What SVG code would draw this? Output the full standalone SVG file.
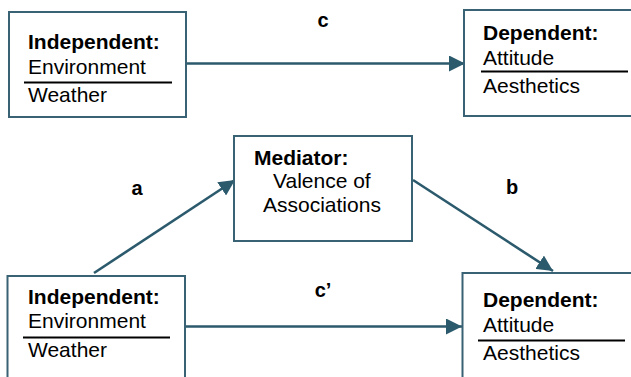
<svg xmlns="http://www.w3.org/2000/svg" width="631" height="377" viewBox="0 0 631 377">
<style>
.box{fill:#fff;stroke:#3a6275;stroke-width:2}
.t{font-family:"Liberation Sans",Arial,sans-serif;font-size:21px;fill:#000}
.b{font-weight:bold}
.lbl{font-family:"Liberation Sans",Arial,sans-serif;font-size:20px;font-weight:bold;fill:#000}
.sep{stroke:#000;stroke-width:2}
.conn{stroke:#2c5a6d;stroke-width:2.6;fill:none}
</style>
<defs>
<marker id="ah" markerWidth="16" markerHeight="16" viewBox="0 0 16 16" refX="16" refY="8" orient="auto" markerUnits="userSpaceOnUse">
<path d="M0,0 L16,8 L0,16 Z" fill="#2c5a6d"/>
</marker>
</defs>
<rect width="631" height="377" fill="#fff"/>
<g id="connectors">
<line class="conn" x1="187" y1="63.5" x2="465" y2="63.5" marker-end="url(#ah)"/>
<line class="conn" x1="94" y1="273" x2="235" y2="180" marker-end="url(#ah)"/>
<line class="conn" x1="413" y1="180" x2="553" y2="271" marker-end="url(#ah)"/>
<line class="conn" x1="186" y1="326.5" x2="462" y2="326.5" marker-end="url(#ah)"/>
<text class="lbl" x="323" y="27" text-anchor="middle">c</text>
<text class="lbl" x="323" y="297" text-anchor="middle">c’</text>
<text class="lbl" x="137" y="195" text-anchor="middle">a</text>
<text class="lbl" x="512" y="194" text-anchor="middle">b</text>
</g>
<g id="indep-top">
<rect class="box" x="9" y="12" width="177" height="105"/>
<text class="t b" x="28" y="49">Independent:</text>
<text class="t" x="28" y="74">Environment</text>
<line class="sep" x1="24" y1="82.5" x2="172" y2="82.5"/>
<text class="t" x="28" y="102">Weather</text>
</g>
<g id="dep-top">
<rect class="box" x="464" y="10" width="180" height="106"/>
<text class="t b" x="483" y="40">Dependent:</text>
<text class="t" x="483" y="65">Attitude</text>
<line class="sep" x1="481" y1="71.5" x2="628" y2="71.5"/>
<text class="t" x="483" y="93">Aesthetics</text>
</g>
<g id="mediator">
<rect class="box" x="234" y="136" width="178" height="105"/>
<text class="t b" x="254" y="165">Mediator:</text>
<text class="t" x="273" y="188">Valence of</text>
<text class="t" x="263" y="212">Associations</text>
</g>
<g id="indep-bottom">
<rect class="box" x="7.5" y="276" width="177.5" height="110"/>
<text class="t b" x="28" y="304">Independent:</text>
<text class="t" x="28" y="328">Environment</text>
<line class="sep" x1="23" y1="337.5" x2="170" y2="337.5"/>
<text class="t" x="28" y="357">Weather</text>
</g>
<g id="dep-bottom">
<rect class="box" x="462.5" y="273" width="180" height="110"/>
<text class="t b" x="483" y="307">Dependent:</text>
<text class="t" x="483" y="332">Attitude</text>
<line class="sep" x1="478" y1="340.5" x2="625" y2="340.5"/>
<text class="t" x="483" y="360">Aesthetics</text>
</g>
</svg>
